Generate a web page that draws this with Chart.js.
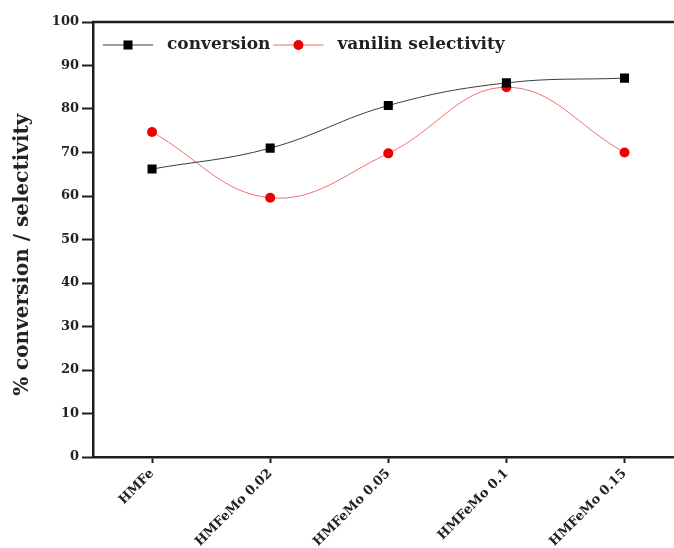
<!DOCTYPE html>
<html><head><meta charset="utf-8">
<script src="https://cdn.jsdelivr.net/npm/chart.js@4.4.1/dist/chart.umd.min.js"></script>
<style>html,body{margin:0;padding:0;background:#fff;overflow:hidden}#wrap{width:674px;height:548px;position:relative;overflow:hidden}</style>
</head><body><div id="wrap"><canvas id="c" width="681" height="548"></canvas></div>
<script>
const categories = ['HMFe', 'HMFeMo 0.02', 'HMFeMo 0.05', 'HMFeMo 0.1', 'HMFeMo 0.15'];
const conversion = [66.2, 71.0, 80.8, 86.0, 87.1];
const selectivity = [74.7, 59.6, 69.8, 85.0, 70.0];
const seriesLabels = ['conversion', 'vanilin selectivity'];
const yTitle = '% conversion / selectivity';

const FONT = "'DejaVu Serif', 'Liberation Serif', serif";
const AX = '#1e1e1e';

const decorPlugin = {
  id: 'decor',
  afterDraw(chart) {
    const ctx = chart.ctx, a = chart.chartArea;
    ctx.save();
    // top frame line
    ctx.strokeStyle = AX; ctx.lineWidth = 2.5;
    ctx.beginPath(); ctx.moveTo(a.left - 1, a.top); ctx.lineTo(a.right + 2, a.top); ctx.stroke();
    // y axis title
    ctx.save();
    ctx.translate(23, a.top + (a.bottom - a.top) * 0.535);
    ctx.rotate(-Math.PI / 2);
    ctx.font = "bold 20px " + FONT;
    ctx.fillStyle = '#222'; ctx.textAlign = 'center'; ctx.textBaseline = 'middle';
    ctx.fillText(yTitle, 0, 0);
    ctx.restore();
    // legend inside plot
    const y = a.top + 23;
    ctx.font = "bold 17px " + FONT;
    ctx.textBaseline = 'middle';
    let x = a.left + 10;
    chart.data.datasets.forEach((ds) => {
      ctx.strokeStyle = ds.borderColor; ctx.lineWidth = 1;
      ctx.beginPath(); ctx.moveTo(x, y); ctx.lineTo(x + 50, y); ctx.stroke();
      ctx.fillStyle = ds.pointBackgroundColor;
      ctx.beginPath();
      if (ds.pointStyle === 'rect') { const s = ds.pointRadius * Math.SQRT1_2; ctx.rect(x + 25 - s, y - s, 2 * s, 2 * s); }
      else { ctx.arc(x + 25, y, ds.pointRadius, 0, Math.PI * 2); }
      ctx.fill();
      ctx.fillStyle = '#222';
      ctx.textAlign = 'left';
      const tx = x + 64;
      ctx.fillText(ds.label, tx, y);
      x = tx + ctx.measureText(ds.label).width + 3;
    });
    ctx.restore();
  }
};

new Chart(document.getElementById('c'), {
  type: 'line',
  data: {
    datasets: [
      {
        label: seriesLabels[0],
        data: conversion.map((v, i) => ({x: i, y: v})),
        borderColor: '#3c3c3c', borderWidth: 1,
        pointStyle: 'rect', pointRadius: 6.4,
        pointBackgroundColor: '#000', pointBorderColor: '#000', pointBorderWidth: 0,
        tension: 0.4, fill: false
      },
      {
        label: seriesLabels[1],
        data: selectivity.map((v, i) => ({x: i, y: v})),
        borderColor: '#f07070', borderWidth: 1,
        pointStyle: 'circle', pointRadius: 5,
        pointBackgroundColor: '#ee0000', pointBorderColor: '#ee0000', pointBorderWidth: 0,
        tension: 0.4, fill: false
      }
    ]
  },
  options: {
    responsive: false, animation: false, devicePixelRatio: 1,
    layout: {padding: {top: 22, right: 0, left: 0, bottom: 0}},
    plugins: {legend: {display: false}, tooltip: {enabled: false}},
    scales: {
      x: {
        type: 'linear', min: -0.5, max: 4.424,
        afterBuildTicks: (s) => { s.ticks = categories.map((c, i) => ({value: i})); },
        afterFit: (s) => { s.height = 91; },
        ticks: {
          callback: (v) => categories[Math.round(v)],
          autoSkip: false, minRotation: 45, maxRotation: 45, padding: 3,
          color: '#222', font: {family: FONT, size: 13, weight: 'bold'}
        },
        grid: {drawOnChartArea: false, drawTicks: true, tickLength: 6, tickWidth: 2, tickColor: AX},
        border: {display: true, width: 2.5, color: AX}
      },
      y: {
        min: 0, max: 100,
        afterFit: (s) => { s.width = 93; },
        ticks: {stepSize: 10, padding: 3, color: '#222', font: {family: FONT, size: 13, weight: 'bold'}},
        grid: {drawOnChartArea: false, drawTicks: true, tickLength: 11, tickWidth: 2, tickColor: AX},
        border: {display: true, width: 2.5, color: AX},
        title: {display: false}
      }
    }
  },
  plugins: [decorPlugin]
});
</script>
</body></html>
